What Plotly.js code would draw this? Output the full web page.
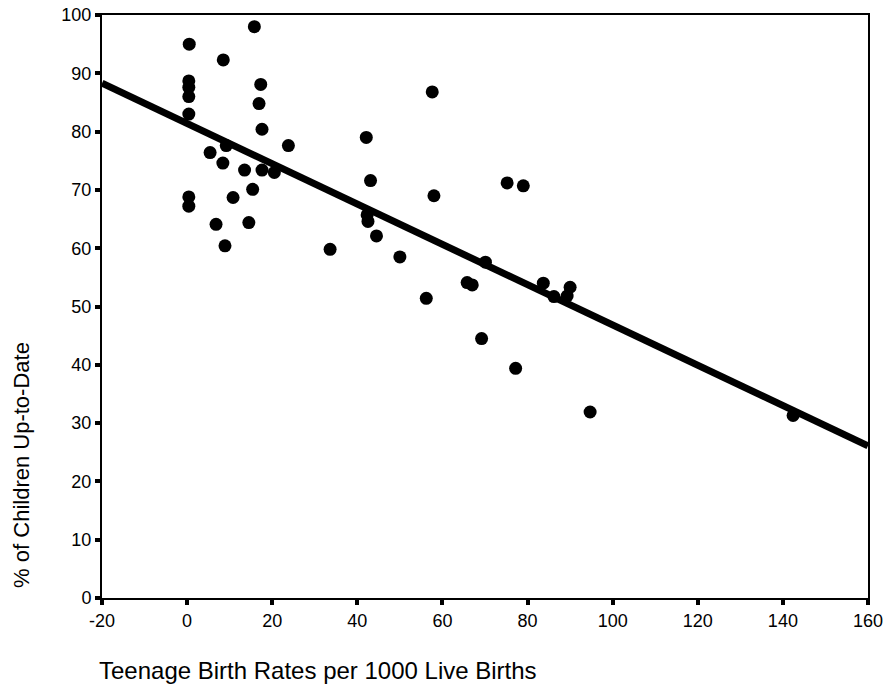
<!DOCTYPE html>
<html>
<head>
<meta charset="utf-8">
<script src="https://cdn.plot.ly/plotly-3.0.1.min.js"></script>
<style>html,body{margin:0;padding:0;background:#fff;}#chart{width:891px;height:691px;}</style>
</head>
<body>
<div id="chart"></div>
<script>
const birthRates = [0.5, 0.4, 0.4, 0.4, 0.4, 0.4, 0.4, 8.5, 15.8, 17.3, 16.9, 17.6, 23.8, 9.2, 5.4, 8.4, 13.5, 17.6, 20.5, 15.4, 10.8, 6.8, 14.5, 8.9, 33.6, 57.6, 42.1, 43.1, 75.2, 79.0, 58.0, 42.3, 42.5, 44.5, 50.0, 70.1, 65.8, 67.0, 83.7, 86.2, 90.0, 89.3, 56.2, 69.2, 77.2, 94.7, 142.4];
const pctUpToDate = [95.0, 88.7, 87.6, 86.0, 83.0, 68.8, 67.2, 92.3, 98.0, 88.1, 84.8, 80.4, 77.6, 77.6, 76.4, 74.6, 73.4, 73.4, 73.0, 70.1, 68.7, 64.1, 64.4, 60.4, 59.8, 86.8, 79.0, 71.6, 71.2, 70.7, 69.0, 65.7, 64.6, 62.1, 58.5, 57.6, 54.1, 53.7, 54.0, 51.7, 53.3, 51.8, 51.4, 44.5, 39.4, 31.9, 31.3];
const fitX = [-20, 160];
const fitY = [88.3, 26.1];
const xTicks = [-20, 0, 20, 40, 60, 80, 100, 120, 140, 160];
const yTicks = [0, 10, 20, 30, 40, 50, 60, 70, 80, 90, 100];
const xTitle = "Teenage Birth Rates per 1000 Live Births";
const yTitle = "% of Children Up-to-Date";

const font = "Liberation Sans, Arial, sans-serif";
const data = [
  {x: fitX, y: fitY, mode: 'lines', line: {color: '#000', width: 7}, hoverinfo: 'skip', cliponaxis: false},
  {x: birthRates, y: pctUpToDate, mode: 'markers', marker: {color: '#000', size: 13, line: {width: 0}}, cliponaxis: false}
];
const axisCommon = {
  showgrid: false, zeroline: false, showline: true, linecolor: '#000', linewidth: 2,
  mirror: true, ticks: 'outside', ticklen: 5, tickwidth: 4, tickcolor: '#000',
  tickfont: {family: font, size: 18, color: '#000'}
};
const layout = {
  width: 891, height: 691,
  margin: {l: 102, r: 23, t: 15, b: 93},
  paper_bgcolor: '#fff', plot_bgcolor: '#fff',
  showlegend: false,
  xaxis: Object.assign({}, axisCommon, {range: [-20, 160], tickvals: xTicks, ticktext: xTicks.map(String)}),
  yaxis: Object.assign({}, axisCommon, {range: [0, 100], tickvals: yTicks, ticktext: yTicks.map(String)}),
  annotations: [
    {text: xTitle, xref: 'paper', yref: 'paper', x: -0.0065, y: -0.1235, xanchor: 'left', yanchor: 'middle', showarrow: false, font: {family: font, size: 24, color: '#000'}},
    {text: yTitle, xref: 'paper', yref: 'paper', x: -0.106, y: 0.228, xanchor: 'center', yanchor: 'middle', textangle: -90, showarrow: false, font: {family: font, size: 22, color: '#000'}}
  ]
};
Plotly.newPlot('chart', data, layout, {displayModeBar: false, staticPlot: true});
</script>
</body>
</html>
